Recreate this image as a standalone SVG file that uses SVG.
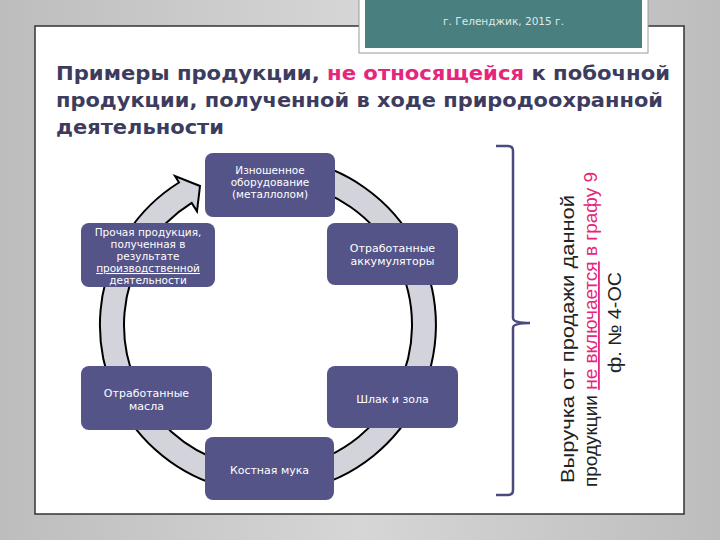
<svg xmlns="http://www.w3.org/2000/svg" width="720" height="540" viewBox="0 0 720 540">
<defs>
<linearGradient id="bg" x1="0" y1="0" x2="1" y2="0">
<stop offset="0" stop-color="#bdbdbd"/>
<stop offset="0.5" stop-color="#d6d6d6"/>
<stop offset="1" stop-color="#bdbdbd"/>
</linearGradient>
<style>
.node rect{fill:#545489;}
.node text{font-family:"DejaVu Sans","Liberation Sans",sans-serif;font-size:11px;fill:#ffffff;text-anchor:middle;}
.node text.sm{font-size:10.5px;}
.title{font-family:"DejaVu Sans","Liberation Sans",sans-serif;font-size:19px;font-weight:bold;fill:#3d3c5e;}
.pink{fill:#e6267a;}
.side{font-family:"Liberation Sans","Arial",sans-serif;font-size:18px;fill:#222222;}
</style>
</defs>
<rect x="0" y="0" width="720" height="540" fill="url(#bg)"/>
<rect x="35" y="26" width="649" height="488" fill="#ffffff" stroke="#333333" stroke-width="1.5"/>
<g id="header">
<rect x="359" y="-2" width="289" height="55" fill="#ffffff" stroke="#9a9a9a" stroke-width="1"/>
<rect x="365" y="0" width="277" height="48" fill="#4a7f80"/>
<text x="503.5" y="25" font-family="DejaVu Sans, Liberation Sans, sans-serif" font-size="11" fill="#dce9e9" text-anchor="middle" textLength="121" lengthAdjust="spacingAndGlyphs">г. Геленджик, 2015 г.</text>
</g>
<g id="title">
<text class="title" x="56" y="80" textLength="614" lengthAdjust="spacingAndGlyphs">Примеры продукции, <tspan class="pink">не относящейся</tspan> к побочной</text>
<text class="title" x="56" y="107" textLength="607" lengthAdjust="spacingAndGlyphs">продукции, полученной в ходе природоохранной</text>
<text class="title" x="56" y="134" textLength="168" lengthAdjust="spacingAndGlyphs">деятельности</text>
</g>
<g id="connectors">
<path d="M297.2,159.6 A168,168 0 1,1 179.0,182.5 L175,176 L200,186 L197,211.4 L191.7,202.9 A144,144 0 1,0 293.0,183.2 Z" fill="#d3d3db" stroke="#000000" stroke-width="2" stroke-linejoin="miter"/>
</g>
<g id="node-top" class="node">
<rect x="205" y="153" width="130" height="64" rx="8"/>
<text class="sm" x="270" y="174">Изношенное</text>
<text class="sm" x="270" y="186">оборудование</text>
<text class="sm" x="270" y="198">(металлолом)</text>
</g>
<g id="node-left-top" class="node">
<rect x="81" y="223" width="134" height="64" rx="8"/>
<text class="sm" x="148" y="236">Прочая продукция,</text>
<text class="sm" x="148" y="248">полученная в</text>
<text class="sm" x="148" y="260">результате</text>
<text class="sm" x="148" y="272" text-decoration="underline">производственной</text>
<text class="sm" x="148" y="284">деятельности</text>
</g>
<g id="node-right-top" class="node">
<rect x="327" y="223" width="131" height="62" rx="8"/>
<text x="392.5" y="252">Отработанные</text>
<text x="392.5" y="265">аккумуляторы</text>
</g>
<g id="node-left-bottom" class="node">
<rect x="81" y="366" width="131" height="64" rx="8"/>
<text x="146.5" y="397">Отработанные</text>
<text x="146.5" y="410">масла</text>
</g>
<g id="node-right-bottom" class="node">
<rect x="327" y="366" width="131" height="62" rx="8"/>
<text x="392.5" y="403">Шлак и зола</text>
</g>
<g id="node-bottom" class="node">
<rect x="205" y="437" width="129" height="63" rx="8"/>
<text x="269.5" y="474">Костная мука</text>
</g>
<g id="brace">
<path d="M496,146 L508,146 Q513,146 513,151 L513,318 Q513,323 530,323 Q513,323 513,328 L513,490 Q513,495 508,495 L496,495" fill="none" stroke="#4b4a7e" stroke-width="2.5"/>
</g>
<g id="side-text">
<text class="side" transform="rotate(-90)" x="-483" y="574" textLength="288" lengthAdjust="spacingAndGlyphs">Выручка от продажи данной</text>
<text class="side" transform="rotate(-90)" x="-487" y="597" textLength="315" lengthAdjust="spacingAndGlyphs">продукции <tspan class="pink" text-decoration="underline">не включается</tspan><tspan class="pink"> в графу 9</tspan></text>
<text class="side" transform="rotate(-90)" x="-373" y="621" textLength="101" lengthAdjust="spacingAndGlyphs">ф. № 4-ОС</text>
</g>
</svg>
